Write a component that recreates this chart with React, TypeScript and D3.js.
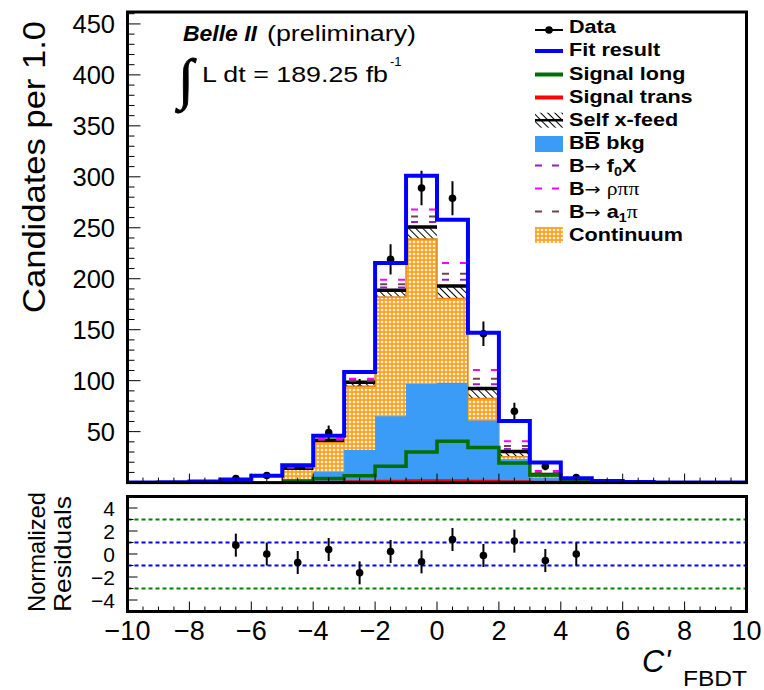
import React from "react";
import * as d3 from "d3";

const W = 764;
const H = 690;
const FONT = "'Liberation Sans', Arial, Helvetica, sans-serif";
const SERIF = "'Liberation Serif', 'Times New Roman', serif";
const ARROWFONT = "'DejaVu Sans', sans-serif";

// Fit result per bin, bins of width 1 from -10 to 10
const fitLowEdges = d3.range(-10, 10, 1);
const fitResult = [0.1, 0.3, 1.2, 3, 6.7, 17, 46, 108.5, 215.5, 301, 258, 147, 60.5, 19.8, 4.3, 1.5, 0.5, 0.2, 0.1, 0.05];

// Fit components, bins from -5 to 5
const compLowEdges = [-5, -4, -3, -2, -1, 0, 1, 2, 3, 4];
const bbBkg = [1, 10.6, 32, 65, 97, 98, 61, 23, 5, 1.5];
const continuum = [12, 28.9, 62.6, 117, 142, 82.6, 21.5, 2.3, 2, 1];
const selfXfeed = [1, 2, 3.9, 6.7, 11.8, 12.4, 9.8, 5.2, 1, 0.3];
const bToF0X = [0.5, 0.5, 1.5, 2.7, 4.9, 6, 4.3, 2.5, 1, 0.2];
const bToA1Pi = [0.5, 0.5, 1, 3.2, 5.3, 6, 5.4, 2.8, 0.8, 0.3];
const bToRhoPiPi = [0.5, 0.7, 1, 4.4, 7, 10.5, 8.5, 4.7, 1.7, 0.5];
const signalLong = [1.5, 4, 6.8, 16, 30, 40.5, 34.5, 19.2, 7.4, 1.5];
const signalTrans = [0.3, 0.6, 1, 1.5, 2, 2, 1.5, 1, 0.5, 0.2];

// Data points at bin centres
const dataCentres = [-6.5, -5.5, -4.5, -3.5, -2.5, -1.5, -0.5, 0.5, 1.5, 2.5, 3.5, 4.5];
const dataCounts = [4, 7, 14, 49, 92, 219, 289, 279, 146, 70, 16, 5];
const normResiduals = [0.77, 0.0, -0.74, 0.39, -1.64, 0.22, -0.68, 1.26, -0.13, 1.12, -0.57, 0.0];

// Axis ticks
const mainYTicks = [50, 100, 150, 200, 250, 300, 350, 400, 450];
const xTicks = [-10, -8, -6, -4, -2, 0, 2, 4, 6, 8, 10];
const residTicks = [-4, -2, 0, 2, 4];

// Layout
const plotL = 127.5;
const plotR = 746.5;
const mainT = 12;
const mainB = 482.6;
const resT = 496.5;
const resB = 611.5;

const x = d3.scaleLinear().domain([-10, 10]).range([plotL, plotR]);
const yM = d3.scaleLinear().domain([0, 461.7]).range([mainB, mainT]);
const yR = d3.scaleLinear().domain([-5, 5]).range([resB, resT]);

const cumulate = (...arrs: number[][]) =>
  arrs[0].map((_, i) => d3.sum(arrs, (a) => a[i]));

const lvlBB = bbBkg;
const lvlCont = cumulate(bbBkg, continuum);
const lvlXfeed = cumulate(bbBkg, continuum, selfXfeed);
const lvlF0 = cumulate(bbBkg, continuum, selfXfeed, bToF0X);
const lvlA1 = cumulate(bbBkg, continuum, selfXfeed, bToF0X, bToA1Pi);
const lvlRho = cumulate(bbBkg, continuum, selfXfeed, bToF0X, bToA1Pi, bToRhoPiPi);

type P = [number, number, number];
const stepPts = (lows: number[], hi: number[], lo?: number[]): P[] =>
  lows.flatMap((l, i) => [
    [l, hi[i], lo ? lo[i] : 0] as P,
    [l + 1, hi[i], lo ? lo[i] : 0] as P,
  ]);

const stepLine = d3
  .line<P>()
  .x((d) => x(d[0]))
  .y((d) => yM(d[1]));
const stepArea = d3
  .area<P>()
  .x((d) => x(d[0]))
  .y0((d) => yM(d[2]))
  .y1((d) => yM(d[1]));

const horizSegs = (lows: number[], vals: number[]) =>
  lows.map((l, i) => `M${x(l)},${yM(vals[i])}H${x(l + 1)}`).join("");

const COL = {
  blue: "#0000ff",
  green: "#006e00",
  red: "#ff0000",
  bb: "#3a9cf7",
  orange: "#ffa31f",
  orangeEdge: "#e0891a",
  f0: "#8e1fcf",
  rho: "#ff00ff",
  a1: "#6e4646",
};

const DASH = "7 11";
const DASH_OFF = 13;

function Legend() {
  const lx0 = 535;
  const lx1 = 563;
  const tx = 569;
  const base = [33, 56, 79.5, 102.5, 125.7, 149, 172, 195, 218, 241];
  const txt = (i: number, children: React.ReactNode) => (
    <text
      transform={`translate(${tx},${base[i]}) scale(1.2,1)`}
      fontFamily={FONT}
      fontWeight="bold"
      fontSize={18}
      fill="#000"
    >
      {children}
    </text>
  );
  const arrow = (
    <tspan fontFamily={ARROWFONT} fontWeight="normal" fontSize={16}>
      →{" "}
    </tspan>
  );
  const dashed = (i: number, c: string) => (
    <path
      d={`M${lx0},${base[i] - 6.5}H${lx1}`}
      stroke={c}
      strokeWidth={2}
      strokeDasharray="7 10"
    />
  );
  return (
    <g>
      <line x1={lx0} x2={lx1} y1={base[0] - 3} y2={base[0] - 3} stroke="#000" strokeWidth={2} />
      <circle cx={(lx0 + lx1) / 2} cy={base[0] - 3} r={3.8} fill="#000" />
      {txt(0, "Data")}
      <line x1={lx0} x2={lx1} y1={base[1] - 5} y2={base[1] - 5} stroke={COL.blue} strokeWidth={4} />
      {txt(1, "Fit result")}
      <line x1={lx0} x2={lx1} y1={base[2] - 5} y2={base[2] - 5} stroke={COL.green} strokeWidth={4} />
      {txt(2, "Signal long")}
      <line x1={lx0} x2={lx1} y1={base[3] - 5} y2={base[3] - 5} stroke={COL.red} strokeWidth={4} />
      {txt(3, "Signal trans")}
      <rect x={lx0} y={base[4] - 13} width={lx1 - lx0} height={15} fill="url(#hatch)" />
      <line x1={lx0} x2={lx1} y1={base[4] - 5.5} y2={base[4] - 5.5} stroke="#000" strokeWidth={2.5} />
      {txt(4, "Self x-feed")}
      <rect x={lx0} y={base[5] - 13} width={lx1 - lx0} height={16} fill={COL.bb} />
      <line x1={tx + 15.6} x2={tx + 31} y1={base[5] - 16} y2={base[5] - 16} stroke="#000" strokeWidth={2} />
      {txt(5, "BB bkg")}
      {dashed(6, COL.f0)}
      {txt(6, <>B{arrow}f<tspan fontSize={12} dy={4}>0</tspan><tspan dy={-4}>X</tspan></>)}
      {dashed(7, COL.rho)}
      {txt(7, <>B{arrow}<tspan fontFamily={SERIF} fontWeight="normal">{" "}ρππ</tspan></>)}
      {dashed(8, COL.a1)}
      {txt(8, <>B{arrow}a<tspan fontSize={12} dy={4}>1</tspan><tspan dy={-4} fontFamily={SERIF} fontWeight="normal">π</tspan></>)}
      <rect x={lx0} y={base[9] - 14} width={lx1 - lx0} height={16} fill="url(#cont)" />
      {txt(9, "Continuum")}
    </g>
  );
}

export default function App() {
  const dataR = 3.8;
  const xMinor = d3.range(-10, 10.01, 0.5);
  const yMinor = d3.range(10, 461, 10);
  const rMinor = d3.range(-5, 5.01, 1);

  return (
    <svg width={W} height={H} style={{ position: "absolute", left: 0, top: 0, background: "#fff" }}>
      <defs>
        <pattern id="cont" width={4} height={4} patternUnits="userSpaceOnUse">
          <rect width={4} height={4} fill={COL.orange} />
          <path d="M2,0.45L3.55,2L2,3.55L0.45,2Z" fill="#fff" />
        </pattern>
        <pattern id="hatch" width={5} height={5} patternUnits="userSpaceOnUse" patternTransform="rotate(-45)">
          <path d="M2.5,0V5" stroke="#000" strokeWidth={1} />
        </pattern>
        <clipPath id="mainClip">
          <rect x={plotL} y={mainT} width={plotR - plotL} height={mainB - mainT} />
        </clipPath>
      </defs>
      <rect width={W} height={H} fill="#fff" />

      {/* ---------- main panel ---------- */}
      <g clipPath="url(#mainClip)">
        {/* data drawn first; components lie on top */}
        {dataCentres.map((c, i) => {
          const n = dataCounts[i];
          const e = Math.sqrt(n);
          return (
            <g key={i}>
              <line x1={x(c)} x2={x(c)} y1={yM(n + e)} y2={yM(Math.max(0, n - e))} stroke="#000" strokeWidth={2} />
              <circle cx={x(c)} cy={yM(n)} r={dataR} fill="#000" />
            </g>
          );
        })}

        {/* self cross-feed hatch band */}
        <path d={stepArea(stepPts(compLowEdges, lvlXfeed, lvlCont)) || ""} fill="url(#hatch)" />
        {/* continuum */}
        <path
          d={stepArea(stepPts(compLowEdges, lvlCont)) || ""}
          fill="url(#cont)"
          stroke={COL.orangeEdge}
          strokeWidth={1.5}
        />
        {/* BB background */}
        <path d={stepArea(stepPts(compLowEdges, lvlBB)) || ""} fill={COL.bb} />
        {/* self cross-feed top */}
        <path d={horizSegs(compLowEdges, lvlXfeed)} stroke="#000" strokeWidth={3.5} fill="none" />
        {/* peaking backgrounds */}
        <path d={horizSegs(compLowEdges, lvlF0)} stroke={COL.f0} strokeWidth={2} strokeDasharray={DASH} strokeDashoffset={DASH_OFF} fill="none" />
        <path d={horizSegs(compLowEdges, lvlA1)} stroke={COL.a1} strokeWidth={2} strokeDasharray={DASH} strokeDashoffset={DASH_OFF} fill="none" />
        <path d={horizSegs(compLowEdges, lvlRho)} stroke={COL.rho} strokeWidth={2} strokeDasharray={DASH} strokeDashoffset={DASH_OFF} fill="none" />
        {/* signal */}
        <path d={stepLine(stepPts(compLowEdges, signalTrans)) || ""} stroke={COL.red} strokeWidth={2.5} fill="none" />
        <path d={stepLine(stepPts(compLowEdges, signalLong)) || ""} stroke={COL.green} strokeWidth={3.5} fill="none" />
        {/* total fit */}
        <path d={stepLine(stepPts(fitLowEdges, fitResult)) || ""} stroke={COL.blue} strokeWidth={4} fill="none" />
      </g>

      {/* main axes ticks */}
      {yMinor.map((v) => {
        const major = v % 50 === 0;
        return <line key={v} x1={plotL} x2={plotL + (major ? 13 : 7)} y1={yM(v)} y2={yM(v)} stroke="#000" strokeWidth={1} />;
      })}
      {xMinor.map((v) => {
        const major = Math.abs(v % 2) < 1e-9;
        return <line key={v} x1={x(v)} x2={x(v)} y1={mainB} y2={mainB - (major ? 9 : 5)} stroke="#000" strokeWidth={1} />;
      })}
      {mainYTicks.map((v) => (
        <text key={v} x={115} y={yM(v) + 9} textAnchor="end" fontFamily={FONT} fontSize={25.5} fill="#000">
          {v}
        </text>
      ))}
      <rect x={plotL} y={mainT} width={plotR - plotL} height={mainB - mainT} fill="none" stroke="#000" strokeWidth={3} />

      {/* titles inside the main frame */}
      <text x={183} y={41} fontFamily={FONT} fontWeight="bold" fontStyle="italic" fontSize={22} textLength={74} lengthAdjust="spacingAndGlyphs">
        Belle II
      </text>
      <text x={267} y={41} fontFamily={FONT} fontSize={22} textLength={149} lengthAdjust="spacingAndGlyphs">
        (preliminary)
      </text>
      <text x={178} y={98} fontFamily={SERIF} fontSize={56} stroke="#000" strokeWidth={0.9}>
        ∫
      </text>
      <text x={202} y={82} fontFamily={FONT} fontSize={22} textLength={186} lengthAdjust="spacingAndGlyphs">
        L dt = 189.25 fb
      </text>
      <text x={390} y={66} fontFamily={FONT} fontSize={13}>
        -1
      </text>

      <Legend />

      <text
        transform={`translate(45,313) rotate(-90)`}
        fontFamily={FONT}
        fontSize={32}
        textLength={292}
        lengthAdjust="spacingAndGlyphs"
      >
        Candidates per 1.0
      </text>

      {/* ---------- residual panel ---------- */}
      {[3, -3].map((v) => (
        <line key={v} x1={plotL} x2={plotR} y1={yR(v)} y2={yR(v)} stroke="#008000" strokeWidth={2} strokeDasharray="4 3" />
      ))}
      {[1, -1].map((v) => (
        <line key={v} x1={plotL} x2={plotR} y1={yR(v)} y2={yR(v)} stroke={COL.blue} strokeWidth={2} strokeDasharray="4 3" />
      ))}
      {dataCentres.map((c, i) => (
        <g key={i}>
          <line x1={x(c)} x2={x(c)} y1={yR(normResiduals[i] + 1)} y2={yR(normResiduals[i] - 1)} stroke="#000" strokeWidth={2} />
          <circle cx={x(c)} cy={yR(normResiduals[i])} r={dataR} fill="#000" />
        </g>
      ))}
      {rMinor.map((v) => {
        const major = Math.abs(v % 2) < 1e-9;
        return <line key={v} x1={plotL} x2={plotL + (major ? 10 : 6)} y1={yR(v)} y2={yR(v)} stroke="#000" strokeWidth={1} />;
      })}
      {xMinor.map((v) => {
        const major = Math.abs(v % 2) < 1e-9;
        return <line key={v} x1={x(v)} x2={x(v)} y1={resB} y2={resB - (major ? 10 : 5)} stroke="#000" strokeWidth={1} />;
      })}
      <rect x={plotL} y={resT} width={plotR - plotL} height={resB - resT} fill="none" stroke="#000" strokeWidth={3} />
      {residTicks.map((v) => (
        <text key={v} x={115} y={yR(v) + 7.5} textAnchor="end" fontFamily={FONT} fontSize={21}>
          {v < 0 ? `−${-v}` : `${v}`}
        </text>
      ))}
      {xTicks.map((v) => (
        <text key={v} x={x(v)} y={640} textAnchor="middle" fontFamily={FONT} fontSize={27}>
          {v < 0 ? `−${-v}` : `${v}`}
        </text>
      ))}
      <text transform="translate(45,612) rotate(-90)" fontFamily={FONT} fontSize={24} textLength={120} lengthAdjust="spacingAndGlyphs">
        Normalized
      </text>
      <text transform="translate(71,612) rotate(-90)" fontFamily={FONT} fontSize={24} textLength={116} lengthAdjust="spacingAndGlyphs">
        Residuals
      </text>

      {/* x-axis title */}
      <text x={642} y={672} fontFamily={FONT} fontStyle="italic" fontSize={31}>
        C'
      </text>
      <text x={683} y={686} fontFamily={FONT} fontSize={22} textLength={64} lengthAdjust="spacingAndGlyphs">
        FBDT
      </text>
    </svg>
  );
}
